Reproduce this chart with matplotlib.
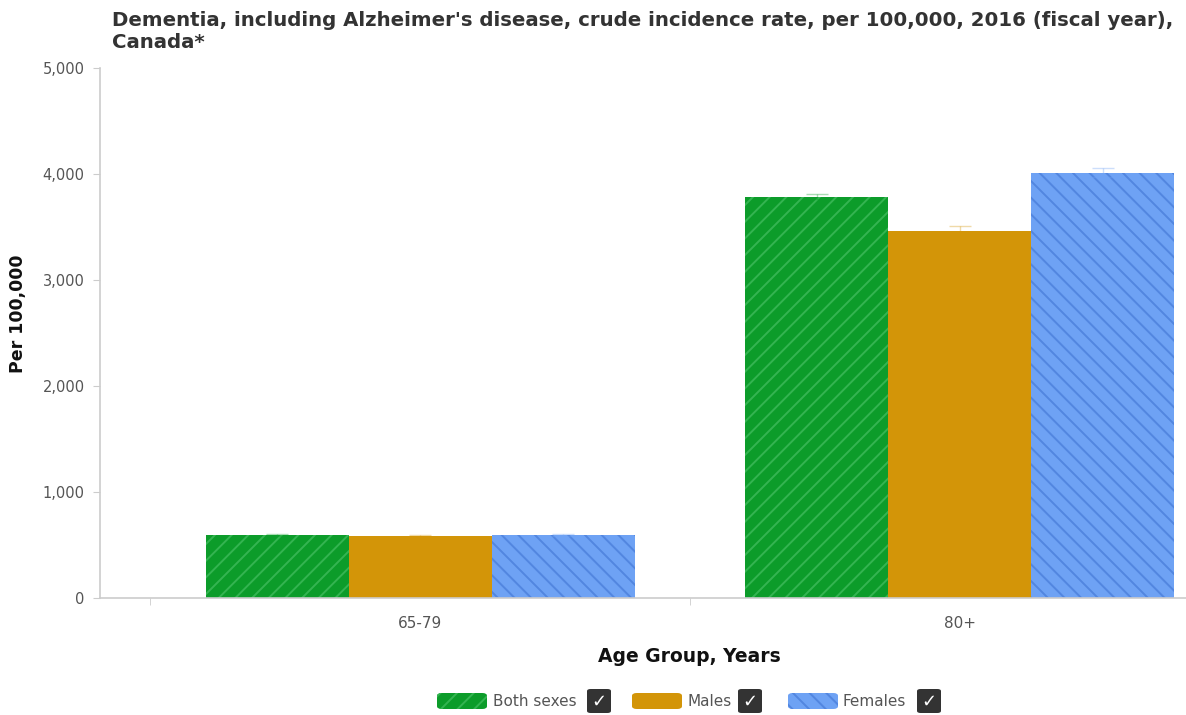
import matplotlib
matplotlib.use("Agg")
import matplotlib.pyplot as plt
from matplotlib.patches import FancyBboxPatch
import numpy as np

# Data
age_groups = ["65-79", "80+"]
series_names = ["Both sexes", "Males", "Females"]
both_sexes = [592, 3785]
males = [582, 3460]
females = [592, 4012]
both_err = [8, 25]
males_err = [10, 45]
females_err = [8, 40]
y_ticks = [0, 1000, 2000, 3000, 4000, 5000]

values = [both_sexes, males, females]
errors = [both_err, males_err, females_err]
face_colors = ["#0c9c2a", "#d39508", "#6ea2f4"]
hatch_colors = ["#34b451", "#d39508", "#5286e0"]
hatches = ["//", "", "\\\\"]

plt.rcParams["font.family"] = ["DejaVu Sans"]
plt.rcParams["hatch.linewidth"] = 1.4

W, H = 1186, 715
fig = plt.figure(figsize=(W / 100, H / 100), dpi=100)
ax = fig.add_axes([100 / W, (H - 598) / H, (W - 100) / W, (598 - 68) / H])

x = np.arange(len(age_groups))
bar_w = 0.265
offsets = [-bar_w, 0, bar_w]
for vals, errs, fc, hc, hatch, off in zip(values, errors, face_colors, hatch_colors, hatches, offsets):
    ax.bar(x + off, vals, width=bar_w, color=fc, edgecolor=hc, linewidth=0,
           hatch=hatch, zorder=2)
    ax.errorbar(x + off, vals, yerr=errs, fmt="none", ecolor=fc, alpha=0.35,
                elinewidth=1, capsize=8, capthick=1, zorder=3)

ax.set_xlim(-0.593, 1.419)
ax.set_ylim(0, 5000)
ax.set_yticks(y_ticks)
ax.set_yticklabels([f"{v:,}" for v in y_ticks], color="#555555", fontsize=10.5)
ax.set_xticks(x)
ax.set_xticklabels(age_groups, color="#555555", fontsize=11)
ax.tick_params(axis="x", length=0, pad=13)
ax.set_xticks([-0.5, 0.5], minor=True)
ax.tick_params(axis="x", which="minor", length=5, color="#cccccc")
ax.tick_params(axis="y", length=5, color="#cccccc", pad=6)

for s in ["top", "right"]:
    ax.spines[s].set_visible(False)
for s in ["left", "bottom"]:
    ax.spines[s].set_color("#cccccc")
    ax.spines[s].set_linewidth(1.2)

# Titles and axis labels
fig.text(112 / W, 1 - 11 / H,
         "Dementia, including Alzheimer's disease, crude incidence rate, per 100,000, 2016 (fiscal year),\nCanada*",
         ha="left", va="top", fontsize=14.2, fontweight="bold", color="#333333", linespacing=1.2)
fig.text(18 / W, 1 - 314 / H, "Per 100,000", rotation=90, ha="center", va="center",
         fontsize=12.5, fontweight="bold", color="#111111")
fig.text(689 / W, 1 - 656 / H, "Age Group, Years", ha="center", va="center",
         fontsize=13.5, fontweight="bold", color="#111111")

# Legend with checkboxes
legend_items = [(437, 493, 587), (632, 687, 738), (788, 843, 917)]
ly = 701
for (px, tx, cx), name, fc, hc, hatch in zip(legend_items, series_names, face_colors, hatch_colors, hatches):
    patch = FancyBboxPatch((px / W, (H - ly - 8) / H), 50 / W, 16 / H,
                           boxstyle="round,pad=0,rounding_size=0.004",
                           transform=fig.transFigure, facecolor=fc, edgecolor=hc,
                           linewidth=0, hatch=hatch)
    fig.add_artist(patch)
    fig.text(tx / W, 1 - ly / H, name, ha="left", va="center", fontsize=11, color="#555555")
    box = FancyBboxPatch((cx / W, (H - ly - 12) / H), 24 / W, 24 / H,
                         boxstyle="round,pad=0,rounding_size=0.003",
                         transform=fig.transFigure, facecolor="#333333", edgecolor="none")
    fig.add_artist(box)
    fig.text((cx + 12) / W, 1 - (ly + 1) / H, "\u2713", ha="center", va="center",
             fontsize=13, fontweight="bold", color="white")

fig.savefig("out.png", dpi=100, facecolor="white")
